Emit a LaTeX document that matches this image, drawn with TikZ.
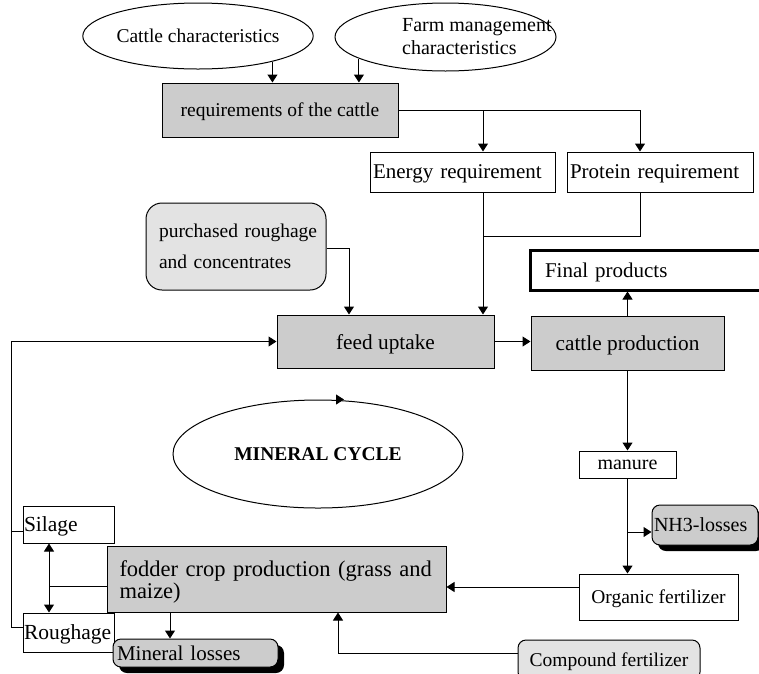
\documentclass[tikz,border=0pt]{standalone}
\usepackage{fontspec}
\setmainfont{Liberation Serif}
\usetikzlibrary{arrows.meta,shapes.geometric,shadows,calc}
\begin{document}
\begin{tikzpicture}[x=1pt,y=-1pt,
  every node/.style={font=\fontsize{19.5}{23}\selectfont, inner sep=0pt, text depth=0pt},
  big/.style={font=\fontsize{21}{24}\selectfont},
  box/.style={draw, line width=1pt},
  gbox/.style={box, fill=gray!40},
  lbox/.style={box, fill=gray!22, rounded corners=8pt},
  sbox/.style={box, fill=gray!40, rounded corners=8pt,
    drop shadow={fill=black, opacity=1, shadow xshift=6pt, shadow yshift=-6pt}},
  oval/.style={draw, line width=1pt, ellipse},
  line/.style={line width=1pt},
  arr/.style={line, -{Triangle[width=10pt,length=8pt]}},
  arrb/.style={line, {Triangle[width=10pt,length=8pt]}-{Triangle[width=10pt,length=8pt]}}
]
\useasboundingbox (0,0) rectangle (759,673);

% ellipses
\node[oval, minimum width=186pt, minimum height=66pt] (cattle) at (198,36) {Cattle characteristics};
\node[oval, minimum width=221pt, minimum height=68pt] (farm) at (445.5,37) {};
\node[anchor=west, align=left, font=\fontsize{20}{23}\selectfont] (farmtxt) at (402,36) {Farm management\\characteristics};
\node[oval, minimum width=290pt, minimum height=108pt] (mc) at (318,454) {\bfseries MINERAL CYCLE};

% boxes
\node[gbox, minimum width=236pt, minimum height=54pt] (req) at (280,110) {requirements of the cattle};
\node[box, big, minimum height=40pt, text width=179pt, inner xsep=3pt, align=left] (energy) at (462.5,172) {Energy requirement};
\node[box, big, minimum height=40pt, text width=180pt, inner xsep=3pt, align=left] (protein) at (660,172) {Protein requirement};
\node[lbox, rounded corners=16pt, minimum height=87pt, text width=166pt, inner xsep=7pt, align=left, text depth={},
  font=\fontsize{19.5}{31}\selectfont] (purch) at (236,246.5) {\hspace*{6pt}purchased roughage\\\hspace*{6pt}and concentrates};
\node[gbox, font=\fontsize{21.3}{24}\selectfont, minimum width=217pt, minimum height=53pt] (feed) at (385.5,341.5) {feed uptake};
\node[gbox, font=\fontsize{21.3}{24}\selectfont, minimum width=193pt, minimum height=54pt] (cprod) at (627.5,343) {cattle production};
\node[draw, big, line width=3pt, minimum height=40pt, text width=216pt, inner xsep=15pt, align=left] (final) at (653,270) {Final products};
\node[box, minimum width=97pt, minimum height=27pt, font=\fontsize{20}{23}\selectfont] (manure) at (627.5,464.5) {manure};
\node[sbox, font=\fontsize{20}{23}\selectfont, minimum height=40pt, text width=102pt, inner xsep=2pt, align=left] (nh3) at (705,525) {NH3-losses};
\node[box, minimum width=159pt, minimum height=46pt] (organic) at (658.5,597) {Organic fertilizer};
\node[box, font=\fontsize{21.5}{24}\selectfont, minimum height=37pt, text width=89pt, inner xsep=1pt, align=left] (silage) at (68.5,524.5) {Silage};
\node[box, font=\fontsize{21.5}{24}\selectfont, minimum height=39pt, text width=89pt, inner xsep=1pt, align=left] (rough) at (68.5,632.5) {Roughage};
\node[gbox, minimum height=66pt, text width=326pt, inner xsep=6.5pt, align=left, text depth=20pt,
  font=\fontsize{22.5}{22}\selectfont] (fodder) at (276.5,579) {\hspace*{6pt}fodder crop production (grass and\\\hspace*{6pt}maize)};
\node[sbox, big, minimum height=28pt, text width=157pt, inner xsep=4pt, align=left] (mloss) at (195.5,653) {Mineral losses};
\node[lbox, minimum width=182pt, minimum height=40pt] (comp) at (609,660) {Compound fertilizer};

% connectors
\draw[arr] (cattle.-19) -- (cattle.-19 |- req.north);
\draw[arr] (farm.194.5) -- (farm.194.5 |- req.north);
\draw[arr] (req.east) -| ([xshift=20.5pt]energy.north);
\draw[arr] (req.east) -| ([xshift=-20pt]protein.north);
\draw[arr] ([xshift=20.5pt]energy.south) -- ([xshift=20.5pt]energy.south |- feed.north);
\coordinate (join) at (483,236);
\draw[line] ([xshift=-20pt]protein.south) |- (join);
\draw[arr] ([yshift=-1.5pt]purch.east) -| ([xshift=-36.5pt]feed.north);
\draw[arr] (feed.east) -- (feed.east -| cprod.west);
\draw[arr] (cprod.north) -- (cprod.north |- final.south);
\draw[arr] (cprod.south) -- (manure.north);
\draw[arr] (manure.south) -- (manure.south |- organic.north);
\draw[arr] ([yshift=-7pt]nh3.west -| manure.south) -- ([yshift=-7pt]nh3.west);
\draw[arr] ([yshift=10pt]organic.west) -- ([yshift=10pt]organic.west -| fodder.east);
\draw[arr] ([yshift=7pt]comp.west) -| ([xshift=61.5pt]fodder.south);
\draw[arr] ([xshift=-106.5pt]fodder.south) -- ([xshift=-106.5pt]fodder.south |- mloss.north);
\draw[arrb] ([xshift=-19.5pt]silage.south) -- ([xshift=-19.5pt]rough.north);
\coordinate (sr) at (49,586);
\draw[line] ([yshift=-7pt]fodder.west) -- (sr);
\draw[arr] ([yshift=5pt]rough.west) -- ++(-11,0) |- (feed.west);
\draw[line] ([yshift=-6.5pt]silage.west) -- ++(-11,0);
\draw[arr] ([xshift=18pt]mc.north) -- ([xshift=26pt]mc.north);
\end{tikzpicture}
\end{document}
